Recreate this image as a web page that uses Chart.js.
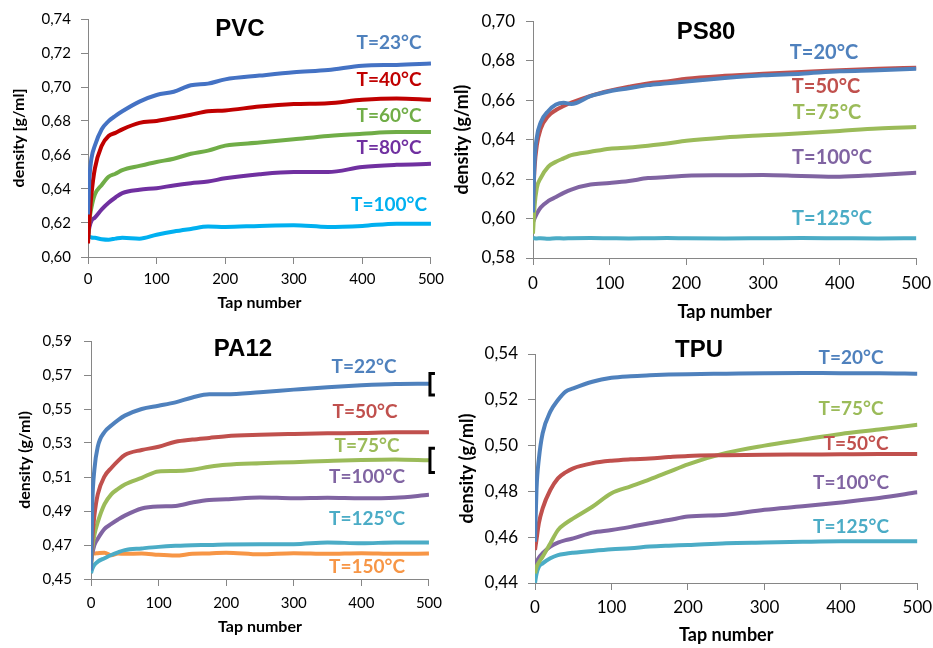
<!DOCTYPE html>
<html>
<head>
<meta charset="utf-8">
<script src="https://cdn.jsdelivr.net/npm/chart.js@4"></script>
<style>
  body { margin: 0; background: #fff; width: 933px; height: 648px; overflow: hidden; position: relative; }
  canvas { position: absolute; }
</style>
</head>
<body>
<canvas id="pvc"></canvas>
<canvas id="ps80"></canvas>
<canvas id="pa12"></canvas>
<canvas id="tpu"></canvas>
<script>
// tap numbers where the curves were read
const taps = [0, 2, 5, 10, 20, 30, 40, 50, 75, 100, 125, 150, 175, 200, 250, 300, 350, 400, 450, 500];

// PVC
const pvcNames = ['T=23°C', 'T=40°C', 'T=60°C', 'T=80°C', 'T=100°C'];
const pvc23 = [0.625, 0.646, 0.658, 0.6655, 0.6751, 0.6799, 0.683, 0.6857, 0.6914, 0.6953, 0.6972, 0.701, 0.702, 0.7045, 0.7067, 0.7087, 0.710, 0.7125, 0.713, 0.7138];
const pvc40 = [0.608, 0.6213, 0.6367, 0.652, 0.6655, 0.6712, 0.673, 0.6751, 0.6789, 0.680, 0.6818, 0.6837, 0.6857, 0.6862, 0.6885, 0.690, 0.6905, 0.6925, 0.6933, 0.6925];
const pvc60 = [0.610, 0.6213, 0.629, 0.6367, 0.6424, 0.6472, 0.649, 0.6511, 0.6536, 0.6559, 0.6578, 0.6607, 0.6626, 0.6655, 0.6673, 0.6692, 0.6712, 0.6725, 0.6735, 0.6735];
const pvc80 = [0.6117, 0.6175, 0.6213, 0.6232, 0.628, 0.6319, 0.635, 0.6376, 0.6396, 0.6405, 0.6421, 0.6434, 0.6444, 0.6463, 0.6487, 0.650, 0.650, 0.6529, 0.6542, 0.6548];
const pvc100 = [0.6121, 0.612, 0.6115, 0.6113, 0.6105, 0.6102, 0.6108, 0.6113, 0.6108, 0.6131, 0.615, 0.6165, 0.6179, 0.6177, 0.6183, 0.6187, 0.6177, 0.6183, 0.6196, 0.6196];

// PS80
const ps80Names = ['T=20°C', 'T=50°C', 'T=75°C', 'T=100°C', 'T=125°C'];
const ps80_20 = [0.6031, 0.6288, 0.6412, 0.6487, 0.6545, 0.6578, 0.6587, 0.658, 0.662, 0.6645, 0.666, 0.6676, 0.6685, 0.6695, 0.6712, 0.6726, 0.6734, 0.6746, 0.6751, 0.6759];
const ps80_50 = [0.6072, 0.6255, 0.6371, 0.6454, 0.652, 0.655, 0.657, 0.6587, 0.6622, 0.6648, 0.6668, 0.6685, 0.6695, 0.6708, 0.6723, 0.6734, 0.6743, 0.6751, 0.6759, 0.6764];
const ps80_75 = [0.5923, 0.606, 0.6155, 0.6205, 0.6263, 0.6288, 0.6305, 0.6321, 0.6338, 0.6354, 0.636, 0.6369, 0.638, 0.6394, 0.6411, 0.6422, 0.6432, 0.6444, 0.6456, 0.6464];
const ps80_100 = [0.5981, 0.600, 0.6025, 0.6056, 0.6089, 0.6109, 0.613, 0.6147, 0.6172, 0.618, 0.619, 0.6205, 0.621, 0.6217, 0.6219, 0.6221, 0.6216, 0.6212, 0.6221, 0.6232];
const ps80_125 = [0.5902, 0.590, 0.5899, 0.590, 0.5898, 0.590, 0.5899, 0.590, 0.5901, 0.590, 0.5899, 0.590, 0.5901, 0.590, 0.5899, 0.590, 0.5901, 0.590, 0.5899, 0.590];

// PA12
const pa12Names = ['T=22°C', 'T=50°C', 'T=75°C', 'T=100°C', 'T=125°C', 'T=150°C'];
const pa12_22 = [0.455, 0.495, 0.5143, 0.5278, 0.5365, 0.5403, 0.5435, 0.5461, 0.550, 0.5519, 0.5539, 0.5568, 0.5587, 0.5587, 0.5599, 0.5614, 0.5628, 0.5639, 0.5647, 0.5649];
const pa12_50 = [0.458, 0.474, 0.4873, 0.4998, 0.5104, 0.5153, 0.5195, 0.523, 0.5259, 0.5278, 0.5307, 0.532, 0.533, 0.534, 0.5348, 0.5353, 0.5357, 0.5359, 0.5363, 0.5363];
const pa12_75 = [0.458, 0.468, 0.476, 0.4834, 0.494, 0.4998, 0.503, 0.5056, 0.5095, 0.5133, 0.5135, 0.5143, 0.516, 0.5172, 0.5181, 0.5187, 0.5194, 0.520, 0.5203, 0.5198];
const pa12_100 = [0.460, 0.465, 0.470, 0.4737, 0.4795, 0.4824, 0.485, 0.4873, 0.4915, 0.4927, 0.493, 0.495, 0.4965, 0.4969, 0.498, 0.4975, 0.4978, 0.4975, 0.4978, 0.4995];
const pa12_125 = [0.4535, 0.456, 0.4583, 0.4602, 0.4622, 0.4641, 0.4657, 0.467, 0.468, 0.4689, 0.4695, 0.4699, 0.470, 0.4703, 0.4705, 0.4705, 0.4715, 0.471, 0.4715, 0.4715];
const pa12_150 = [0.4655, 0.4655, 0.465, 0.4652, 0.4655, 0.464, 0.465, 0.4648, 0.465, 0.4642, 0.4638, 0.4648, 0.465, 0.4655, 0.4645, 0.4652, 0.4648, 0.4652, 0.4648, 0.465];
// error bars at the last tap
const pa12ErrTap = [500, 500];
const pa12ErrLow = [0.5582, 0.5127];
const pa12ErrHigh = [0.5709, 0.5269];

// TPU
const tpuNames = ['T=20°C', 'T=50°C', 'T=75°C', 'T=100°C', 'T=125°C'];
const tpu20 = [0.458, 0.481, 0.494, 0.5054, 0.5148, 0.5199, 0.5236, 0.525, 0.5279, 0.5296, 0.5303, 0.5307, 0.531, 0.5312, 0.5314, 0.5316, 0.5317, 0.5316, 0.5316, 0.5314];
const tpu50 = [0.4544, 0.459, 0.466, 0.4726, 0.4806, 0.4857, 0.4883, 0.4901, 0.4923, 0.4934, 0.494, 0.4944, 0.495, 0.4955, 0.4958, 0.496, 0.4961, 0.4962, 0.4963, 0.4963];
const tpu75 = [0.4442, 0.447, 0.449, 0.4515, 0.4573, 0.4631, 0.466, 0.4682, 0.4733, 0.4792, 0.4822, 0.4852, 0.4885, 0.4918, 0.4968, 0.500, 0.5026, 0.5051, 0.507, 0.5091];
const tpu100 = [0.4449, 0.449, 0.451, 0.453, 0.4559, 0.4576, 0.4587, 0.4595, 0.462, 0.4631, 0.4645, 0.4661, 0.4675, 0.469, 0.4698, 0.472, 0.4735, 0.4752, 0.4771, 0.4796];
const tpu125 = [0.440, 0.444, 0.4471, 0.4486, 0.4508, 0.4522, 0.4528, 0.4532, 0.454, 0.4547, 0.4552, 0.4559, 0.4563, 0.4566, 0.4574, 0.4577, 0.458, 0.4582, 0.4582, 0.4582];

const office = ['#4F81BD', '#C0504D', '#9BBB59', '#8064A2', '#4BACC6', '#F79646'];
const AXIS = '#868686';

// free text (titles, curve labels) in page coordinates
const textPlugin = {
  id: 'panelText',
  afterDraw(chart, args, opts) {
    const ctx = chart.ctx;
    ctx.save();
    ctx.textAlign = 'center';
    ctx.textBaseline = 'middle';
    opts.items.forEach(it => {
      ctx.font = it.font;
      ctx.fillStyle = it.color;
      ctx.fillText(it.text, it.x - opts.left, it.y - opts.top);
    });
    ctx.restore();
  }
};

const errPlugin = {
  id: 'errBars',
  afterDatasetsDraw(chart, args, opts) {
    if (!opts.taps) return;
    const {ctx, scales: {x, y}} = chart;
    ctx.save();
    ctx.strokeStyle = '#000';
    ctx.lineWidth = 3;
    opts.taps.forEach((t, i) => {
      const px = x.getPixelForValue(t) + 1;
      const y1 = y.getPixelForValue(opts.high[i]);
      const y2 = y.getPixelForValue(opts.low[i]);
      ctx.beginPath();
      ctx.moveTo(px + 5, y1); ctx.lineTo(px, y1); ctx.lineTo(px, y2); ctx.lineTo(px + 5, y2);
      ctx.stroke();
    });
    ctx.restore();
  }
};

function makePanel(id, p) {
  const el = document.getElementById(id);
  el.width = p.w; el.height = p.h;
  el.style.left = p.left + 'px'; el.style.top = p.top + 'px';
  el.style.width = p.w + 'px'; el.style.height = p.h + 'px';
  const plotL = p.plot[0] - p.left, plotT = p.plot[1] - p.top;
  const plotR = p.plot[2] - p.left, plotB = p.plot[3] - p.top;

  const datasets = p.series.map((vals, i) => ({
    label: p.names[i],
    data: taps.map((t, j) => ({x: t, y: vals[j]})),
    borderColor: p.colors[i],
    borderWidth: 4,
    pointRadius: 0,
    cubicInterpolationMode: 'monotone',
    fill: false
  }));

  const items = [{text: p.title, x: p.titlePos[0], y: p.titlePos[1], color: '#000', font: '700 24px "Liberation Sans", Arial, sans-serif'}];
  p.names.forEach((n, i) => items.push({
    text: n, x: p.labelPos[i][0], y: p.labelPos[i][1],
    color: p.labelColors[i], font: `700 ${p.labelSize}px Lato, sans-serif`
  }));

  return new Chart(el, {
    type: 'line',
    data: {datasets},
    plugins: [textPlugin, errPlugin],
    options: {
      responsive: false,
      animation: false,
      layout: {padding: {top: plotT, right: p.w - plotR, left: 0, bottom: 0}},
      plugins: {
        legend: {display: false},
        tooltip: {enabled: false},
        panelText: {items, left: p.left, top: p.top},
        errBars: p.err || {}
      },
      scales: {
        x: {
          type: 'linear', min: 0, max: 500,
          ticks: {stepSize: 100, color: '#000', font: {family: 'Lato', size: p.tick}, padding: p.xTickPad, maxRotation: 0},
          grid: {drawOnChartArea: false, tickLength: 7, color: AXIS},
          border: {color: AXIS, width: 1},
          title: {display: true, text: 'Tap number', color: '#000', font: {family: 'Lato', size: p.axisTitle, weight: 'bold'}, padding: {top: 0, bottom: p.xTitlePad}},
          afterFit: s => { s.height = p.h - plotB; }
        },
        y: {
          min: p.yMin, max: p.yMax,
          ticks: {stepSize: p.yStep, color: '#000', font: {family: 'Lato', size: p.tick}, padding: p.yTickPad,
                  callback: v => v.toFixed(2).replace('.', ',')},
          grid: {drawOnChartArea: false, tickLength: 7, color: AXIS},
          border: {color: AXIS, width: 1},
          title: {display: true, text: p.yTitle, color: '#000', font: {family: 'Lato', size: p.axisTitle, weight: 'bold'}, padding: {top: p.yTitlePad, bottom: 0}},
          afterFit: s => { s.width = plotL; }
        }
      }
    }
  });
}

makePanel('pvc', {
  left: 0, top: 0, w: 450, h: 320, plot: [88, 14, 432, 257],
  yMin: 0.60, yMax: 0.74, yStep: 0.02, yTitle: 'density [g/ml]',
  tick: 15, axisTitle: 16, yTickPad: 10, xTickPad: 6, yTitlePad: 9.4, xTitlePad: 7.4,
  series: [pvc23, pvc40, pvc60, pvc80, pvc100], names: pvcNames,
  colors: ['#4472C4', '#C00000', '#70AD47', '#7030A0', '#00B0F0'],
  labelColors: ['#4F81BD', '#C00000', '#70AD47', '#7030A0', '#00B0F0'],
  title: 'PVC', titlePos: [240, 29], labelSize: 19,
  labelPos: [[389, 43], [389, 80], [389, 116], [389, 148], [389, 205]]
});

makePanel('ps80', {
  left: 440, top: 0, w: 500, h: 330, plot: [533, 17, 918, 258],
  yMin: 0.58, yMax: 0.70, yStep: 0.02, yTitle: 'density (g/ml)',
  tick: 17, axisTitle: 18, yTickPad: 11, xTickPad: 8.8, yTitlePad: 11.2, xTitlePad: 7.2,
  series: [ps80_20, ps80_50, ps80_75, ps80_100, ps80_125], names: ps80Names,
  colors: office, labelColors: office,
  title: 'PS80', titlePos: [706, 32], labelSize: 20,
  labelPos: [[824, 53], [826, 87], [827, 113], [832, 158], [832, 219]]
});

makePanel('pa12', {
  left: 0, top: 320, w: 450, h: 328, plot: [91, 337, 433, 579],
  yMin: 0.45, yMax: 0.59, yStep: 0.02, yTitle: 'density (g/ml)',
  tick: 15, axisTitle: 16, yTickPad: 12, xTickPad: 8, yTitlePad: 15, xTitlePad: 11.4,
  series: [pa12_22, pa12_50, pa12_75, pa12_100, pa12_125, pa12_150], names: pa12Names,
  colors: office, labelColors: office,
  title: 'PA12', titlePos: [243, 349], labelSize: 19,
  labelPos: [[364, 367], [365, 412], [367, 446], [367, 477], [367, 519], [367, 567]],
  err: {taps: pa12ErrTap, low: pa12ErrLow, high: pa12ErrHigh}
});

makePanel('tpu', {
  left: 440, top: 320, w: 500, h: 328, plot: [535, 354, 920, 583],
  yMin: 0.44, yMax: 0.54, yStep: 0.02, yTitle: 'density (g/ml)',
  tick: 17, axisTitle: 18, yTickPad: 10, xTickPad: 7.8, yTitlePad: 16.2, xTitlePad: 2.2,
  series: [tpu20, tpu50, tpu75, tpu100, tpu125], names: tpuNames,
  colors: office, labelColors: office,
  title: 'TPU', titlePos: [699, 350], labelSize: 19,
  labelPos: [[851, 358], [856, 444], [851, 409], [851, 483], [851, 527]]
});
</script>
</body>
</html>
